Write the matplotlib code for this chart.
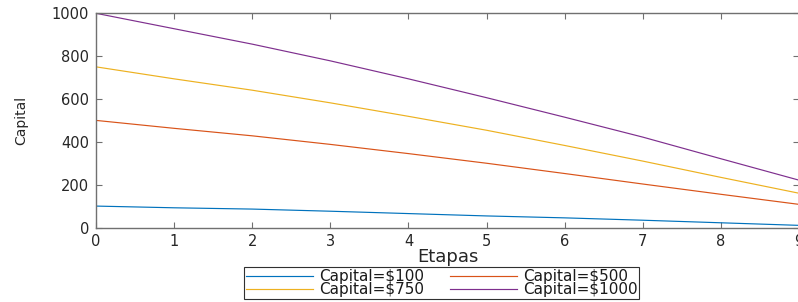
import matplotlib
matplotlib.use("Agg")
import matplotlib.pyplot as plt

etapas = [0, 1, 2, 3, 4, 5, 6, 7, 8, 9]
cap_100 = [100, 92, 86, 76, 65, 54, 45, 34, 22, 10]
cap_500 = [500, 463, 428, 388, 345, 300, 252, 203, 155, 108]
cap_750 = [750, 694, 641, 582, 519, 454, 383, 310, 234, 160]
cap_1000 = [1000, 928, 856, 778, 694, 606, 515, 422, 321, 221]
labels = ["Capital=$100", "Capital=$500", "Capital=$750", "Capital=$1000"]
colors = ["#0072BD", "#D95319", "#EDB120", "#7E2F8E"]
xticks = [0, 1, 2, 3, 4, 5, 6, 7, 8, 9]
yticks = [0, 200, 400, 600, 800, 1000]

W, H = 798, 302
fig = plt.figure(figsize=(W / 100, H / 100), dpi=100)
ax = fig.add_axes([96 / W, 1 - 227.5 / H, (799 - 96) / W, (227.5 - 13.3) / H])

series = [cap_100, cap_500, cap_750, cap_1000]
lines = []
for s, c, lab in zip(series, colors, labels):
    ln, = ax.plot(etapas, s, color=c, lw=0.85, label=lab)
    lines.append(ln)

ax.set_xlim(0, 9)
ax.set_ylim(0, 1000)
ax.set_xticks(xticks)
ax.set_yticks(yticks)
spine_col = "#707070"
for sp in ax.spines.values():
    sp.set_color(spine_col)
    sp.set_linewidth(1.0)
ax.tick_params(direction="in", length=4, width=0.8, color=spine_col,
               top=True, right=True, labelsize=10.5, labelcolor="#262626", pad=5)

ax.set_xlabel("Etapas", fontsize=13, color="#262626", labelpad=-1)
ax.set_ylabel("Capital", fontsize=10, color="#262626")
ax.yaxis.set_label_coords((28 - 96) / (799 - 96), 0.5)

order = [0, 2, 1, 3]
leg = fig.legend([lines[i] for i in order], [labels[i] for i in order],
                 ncol=2, loc="lower left", bbox_to_anchor=(244 / W, 3 / H),
                 bbox_transform=fig.transFigure, fontsize=11,
                 frameon=True, fancybox=False, framealpha=1,
                 edgecolor="#303030", borderpad=0.1, labelspacing=-0.1,
                 handlelength=4.4, handletextpad=0.4, columnspacing=1.7,
                 borderaxespad=0)
leg.get_frame().set_linewidth(0.8)
for t in leg.get_texts():
    t.set_color("#1a1a1a")

fig.savefig("out.png", dpi=100)
